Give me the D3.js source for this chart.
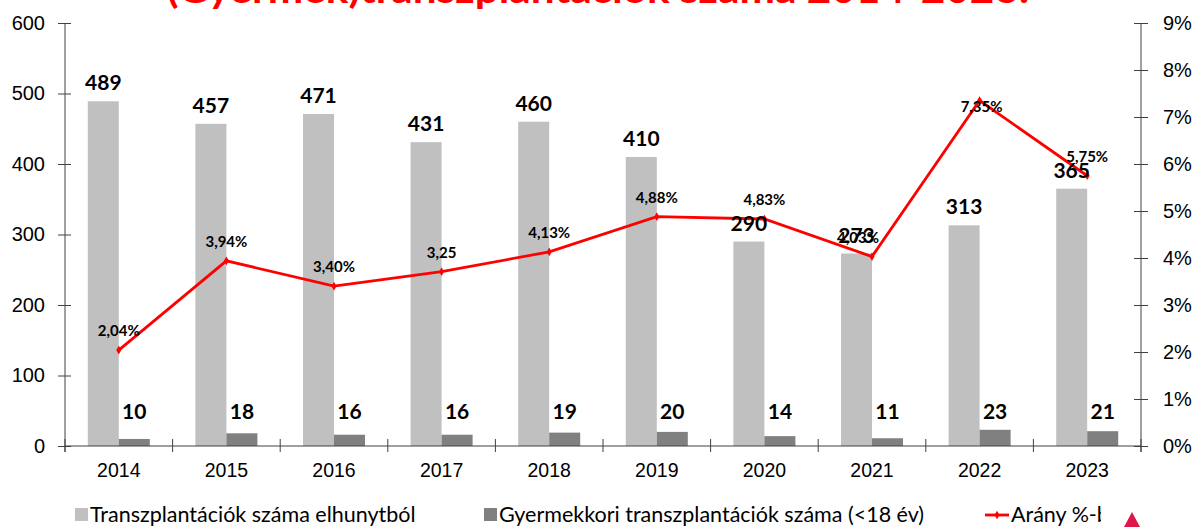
<!DOCTYPE html>
<html>
<head>
<meta charset="utf-8">
<script src="https://cdn.jsdelivr.net/npm/d3@7"></script>
<style>
  html, body { margin: 0; padding: 0; background: #fff; }
  svg { display: block; font-family: Lato, "Open Sans", sans-serif; }
</style>
</head>
<body>
<svg id="chart" width="1192" height="527"></svg>
<script>
const years = ["2014","2015","2016","2017","2018","2019","2020","2021","2022","2023"];
const totalTransplants = [489, 457, 471, 431, 460, 410, 290, 273, 313, 365];
const childTransplants = [10, 18, 16, 16, 19, 20, 14, 11, 23, 21];
const ratePercent = [2.04, 3.94, 3.40, 3.71, 4.13, 4.88, 4.83, 4.03, 7.35, 5.75];
const rateLabels = ["2,04%", "3,94%", "3,40%", "3,25", "4,13%", "4,88%", "4,83%", "4,03%", "7,35%", "5,75%"];
const leftTicks = [0, 100, 200, 300, 400, 500, 600];
const rightTicks = [0, 1, 2, 3, 4, 5, 6, 7, 8, 9];
const seriesNames = ["Transzplantációk száma elhunytból", "Gyermekkori transzplantációk száma (<18 év)", "Arány %-ban"];
const titleText = "(Gyermek)transzplantációk száma 2014-2023.";

(function () {
const svg = d3.select("#chart");
const pL = 65, pR = 1141, pT = 23, pB = 446;
const colLight = "#c0c0c0", colDark = "#808080", colRed = "#ff0000", axisCol = "#404040";

// clipped title
svg.append("text")
  .attr("x", 598).attr("y", 3)
  .attr("text-anchor", "middle")
  .attr("font-size", 38).attr("font-weight", "bold")
  .attr("fill", colRed)
  .attr("textLength", 862).attr("lengthAdjust", "spacingAndGlyphs")
  .text(titleText);

const x = d3.scaleBand().domain(years).range([pL, pR]).paddingInner(0).paddingOuter(0);
const sub = d3.scaleBand().domain(["a", "b"]).range([0, x.bandwidth()]).paddingInner(0).paddingOuter(0.735);
const y = d3.scaleLinear().domain([0, 600]).range([pB, pT]);
const yR = d3.scaleLinear().domain([0, 9]).range([pB, pT]);

// bars
svg.append("g").selectAll("rect").data(totalTransplants).join("rect")
  .attr("x", (d, i) => x(years[i]) + sub("a"))
  .attr("width", sub.bandwidth())
  .attr("y", d => y(d))
  .attr("height", d => y(0) - y(d))
  .attr("fill", colLight);
svg.append("g").selectAll("rect").data(childTransplants).join("rect")
  .attr("x", (d, i) => x(years[i]) + sub("b"))
  .attr("width", sub.bandwidth())
  .attr("y", d => y(d))
  .attr("height", d => y(0) - y(d))
  .attr("fill", colDark);

// left axis
const gL = svg.append("g").attr("transform", `translate(${pL},0)`)
  .call(d3.axisLeft(y).tickValues(leftTicks).tickSize(7).tickPadding(13));
gL.select(".domain").remove();
gL.selectAll(".tick line").attr("x1", -7).attr("x2", 6).attr("stroke", axisCol);
gL.selectAll(".tick text").attr("font-size", 20).attr("fill", "#000");
svg.append("line").attr("x1", pL).attr("x2", pL).attr("y1", pT).attr("y2", pB + 6).attr("stroke", axisCol);

// right axis
const gR = svg.append("g").attr("transform", `translate(${pR},0)`)
  .call(d3.axisRight(yR).tickValues(rightTicks).tickFormat(d => d + "%").tickSize(7).tickPadding(15));
gR.select(".domain").remove();
gR.selectAll(".tick line").attr("x1", -7).attr("x2", 7).attr("stroke", axisCol);
gR.selectAll(".tick text").attr("font-size", 20).attr("fill", "#000");
svg.append("line").attr("x1", pR).attr("x2", pR).attr("y1", pT).attr("y2", pB + 6).attr("stroke", axisCol);

// bottom axis
const gB = svg.append("g").attr("transform", `translate(0,${pB})`)
  .call(d3.axisBottom(x).tickSize(0).tickPadding(17));
gB.select(".domain").attr("stroke", axisCol).attr("d", `M${pL},0H${pR}`);
gB.selectAll(".tick text").attr("font-size", 19.5).attr("fill", "#000");
const bounds = years.map(d => x(d)).concat([x(years[years.length - 1]) + x.bandwidth()]);
svg.append("g").selectAll("line").data(bounds).join("line")
  .attr("x1", d => d).attr("x2", d => d)
  .attr("y1", pB - 7).attr("y2", pB + 6)
  .attr("stroke", axisCol);

// rate line
const cx = (i) => x(years[i]) + x.bandwidth() / 2;
const line = d3.line().x((d, i) => cx(i)).y(d => yR(d));
svg.append("path").datum(ratePercent)
  .attr("d", line).attr("fill", "none").attr("stroke", colRed).attr("stroke-width", 2.8);
svg.append("g").selectAll("path").data(ratePercent).join("path")
  .attr("transform", (d, i) => `translate(${cx(i)},${yR(d)})`)
  .attr("d", d3.symbol(d3.symbolDiamond, 22))
  .attr("fill", colRed);

// value labels
svg.append("g").selectAll("text").data(totalTransplants).join("text")
  .attr("x", (d, i) => x(years[i]) + sub("a") + sub.bandwidth() / 2)
  .attr("y", d => y(d) - 11)
  .attr("text-anchor", "middle").attr("font-size", 21).attr("font-weight", "bold")
  .attr("fill", "#000")
  .text(d => d);
svg.append("g").selectAll("text").data(childTransplants).join("text")
  .attr("x", (d, i) => x(years[i]) + sub("b") + sub.bandwidth() / 2)
  .attr("y", d => Math.min(y(d) - 11, y(38)))
  .attr("text-anchor", "middle").attr("font-size", 21).attr("font-weight", "bold")
  .attr("fill", "#000")
  .text(d => d);
svg.append("g").selectAll("text").data(ratePercent).join("text")
  .attr("x", (d, i) => cx(i) + (i === 8 ? 2 : i === 7 ? -14 : 0))
  .attr("y", (d, i) => yR(d) + (i === 8 ? 11 : -14))
  .attr("text-anchor", "middle").attr("font-size", 15).attr("font-weight", "bold")
  .attr("fill", "#000")
  .text((d, i) => rateLabels[i]);

// legend (clipped at right)
const clip = svg.append("defs").append("clipPath").attr("id", "legclip");
clip.append("rect").attr("x", 0).attr("y", 490).attr("width", 1101).attr("height", 40);
const leg = svg.append("g").attr("clip-path", "url(#legclip)");
const legItems = [
  {x: 75, type: "rect", color: colLight, name: seriesNames[0]},
  {x: 484, type: "rect", color: colDark, name: seriesNames[1]},
  {x: 985, type: "line", color: colRed, name: seriesNames[2]}
];
legItems.forEach(it => {
  if (it.type === "rect") {
    leg.append("rect").attr("x", it.x).attr("y", 508).attr("width", 13).attr("height", 13).attr("fill", it.color);
  } else {
    leg.append("line").attr("x1", it.x).attr("x2", it.x + 24).attr("y1", 515).attr("y2", 515)
      .attr("stroke", it.color).attr("stroke-width", 2.8);
    leg.append("path").attr("transform", `translate(${it.x + 12},515)`)
      .attr("d", d3.symbol(d3.symbolDiamond, 22)).attr("fill", it.color);
  }
  leg.append("text").attr("x", it.x + (it.type === "rect" ? 15 : 26)).attr("y", 522)
    .attr("font-size", 21.5).attr("fill", "#000").text(it.name);
});

// logo fragment
svg.append("path").attr("d", "M1124,527 L1132,512 L1140,527 Z").attr("fill", "#e0164a");
})();
</script>
</body>
</html>
